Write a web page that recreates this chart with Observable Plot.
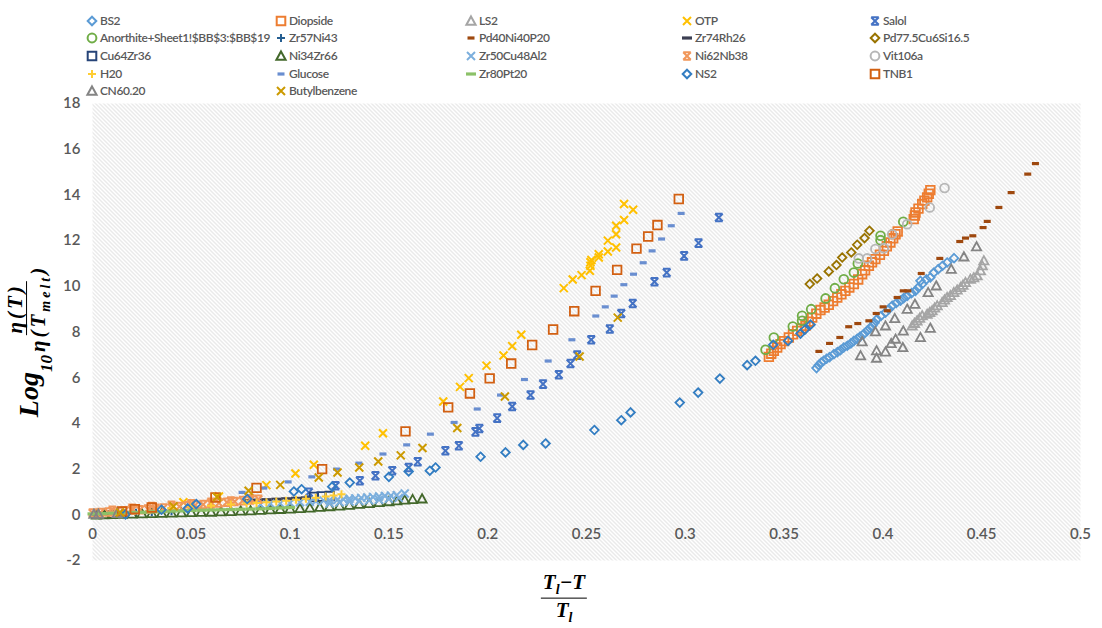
<!DOCTYPE html>
<html><head><meta charset="utf-8">
<script src="https://cdn.jsdelivr.net/npm/d3@7"></script>
<script src="https://cdn.jsdelivr.net/npm/@observablehq/plot@0.6"></script>
<style>
body{margin:0;background:#fff;}
#wrap{position:relative;width:1102px;height:628px;overflow:hidden;font-family:Lato,"Open Sans",sans-serif;}
#legend .it{position:absolute;display:flex;align-items:center;font-size:12px;letter-spacing:-0.4px;color:#595959;font-weight:600;white-space:nowrap;line-height:14px;}
#legend svg{margin-right:3px;overflow:visible}
.math{font-family:"Liberation Serif","DejaVu Serif",serif;font-weight:bold;font-style:italic;color:#000;}
.frac{display:inline-flex;flex-direction:column;align-items:center;vertical-align:middle;}
.frac .num{border-bottom:1.5px solid #000;padding:0 2px;line-height:1.05;}
.frac .den{line-height:1.05;padding:0 2px;}
</style></head>
<body><div id="wrap"><div id="chart"></div><div id="legend"></div>
<div id="ylab" class="math" style="position:absolute;left:29px;top:340px;transform:translate(-50%,-50%) rotate(-90deg);white-space:nowrap;display:flex;align-items:center;">
<span style="font-size:28px;">Log</span><span style="font-size:17px;align-self:flex-end;margin-bottom:-3px;">10</span><span class="frac" style="font-size:21px;letter-spacing:3px;margin-left:1px;"><span class="num">η(T)</span><span class="den">η(T<sub style="font-size:14px;">melt</sub>)</span></span>
</div>
<div id="xlab" class="math" style="position:absolute;left:564px;top:598px;transform:translate(-50%,-50%);">
<span class="frac" style="font-size:21px;"><span class="num">T<sub style="font-size:14px;">l</sub>−T</span><span class="den">T<sub style="font-size:14px;">l</sub></span></span>
</div>
</div>
<script>
// ---- data ----
const xTicks = [0, 0.05, 0.1, 0.15, 0.2, 0.25, 0.3, 0.35, 0.4, 0.45, 0.5];
const yTicks = [-2, 0, 2, 4, 6, 8, 10, 12, 14, 16, 18];

const BS2 = [[0.3664,6.42],[0.3675,6.55],[0.3688,6.66],[0.370,6.74],[0.3715,6.83],[0.373,6.9],[0.3752,7.03],[0.377,7.12],[0.3785,7.2],[0.3802,7.32],[0.382,7.4],[0.3838,7.5],[0.3853,7.61],[0.387,7.7],[0.3885,7.8],[0.3903,7.91],[0.392,8.05],[0.3935,8.16],[0.3946,8.27],[0.3958,8.4],[0.397,8.56],[0.399,8.7],[0.4013,8.85],[0.403,9.0],[0.4047,9.15],[0.4068,9.27],[0.4089,9.37],[0.4105,9.48],[0.4123,9.58],[0.4145,9.7],[0.4165,9.8],[0.418,9.95],[0.4199,10.1],[0.419,10.24],[0.422,10.3],[0.424,10.39],[0.4258,10.6],[0.428,10.75],[0.4302,10.9],[0.4325,11.04],[0.436,11.23]];
const Diopside = [[0.3423,6.91],[0.3435,7.05],[0.3448,7.18],[0.3465,7.32],[0.3482,7.47],[0.350,7.6],[0.3524,7.76],[0.3545,7.9],[0.3566,8.05],[0.3587,8.15],[0.3608,8.27],[0.3625,8.45],[0.3642,8.63],[0.3663,8.8],[0.3684,8.96],[0.3705,9.07],[0.3726,9.19],[0.3748,9.35],[0.3769,9.51],[0.379,9.65],[0.381,9.8],[0.383,9.95],[0.3853,10.1],[0.3875,10.3],[0.3895,10.53],[0.391,10.7],[0.3929,10.9],[0.3945,11.05],[0.3962,11.19],[0.3985,11.38],[0.4005,11.55],[0.402,11.75],[0.4038,11.92],[0.4052,12.1],[0.4064,12.28],[0.4075,12.4],[0.4156,12.94],[0.4162,13.1],[0.4165,13.23],[0.418,13.4],[0.4199,13.6],[0.421,13.75],[0.4224,13.89],[0.4232,14.05],[0.424,14.21]];
const LS2 = [[0.4148,8.27],[0.416,8.38],[0.4173,8.49],[0.4186,8.6],[0.4199,8.71],[0.4224,8.78],[0.4237,8.86],[0.4249,8.93],[0.4262,9.05],[0.4275,9.15],[0.43,9.29],[0.4312,9.4],[0.4325,9.51],[0.4342,9.6],[0.4359,9.73],[0.4376,9.84],[0.4393,9.95],[0.4405,10.05],[0.4418,10.17],[0.4443,10.31],[0.446,10.38],[0.4477,10.46],[0.4494,10.68],[0.4503,10.9],[0.4511,11.12]];
const OTP = [[0.046,0.55],[0.064,0.8],[0.088,1.3],[0.1027,1.81],[0.112,2.19],[0.138,3.02],[0.147,3.57],[0.1775,4.96],[0.186,5.6],[0.1904,5.98],[0.1994,6.53],[0.208,6.97],[0.2124,7.38],[0.217,7.88],[0.2385,9.92],[0.243,10.3],[0.2475,10.49],[0.2517,10.68],[0.252,10.9],[0.252,11.05],[0.2525,11.15],[0.2562,11.26],[0.2562,11.4],[0.2608,11.52],[0.2608,12.0],[0.265,11.7],[0.265,12.28],[0.265,12.65],[0.269,12.9],[0.2736,13.35],[0.269,13.6]];
const Salol = [[0.1095,0.98],[0.123,1.27],[0.1353,1.49],[0.1432,1.71],[0.1517,1.93],[0.16,2.07],[0.1646,2.32],[0.1786,2.8],[0.1854,3.02],[0.1938,3.63],[0.1958,3.78],[0.2048,4.23],[0.2124,4.74],[0.2217,5.24],[0.228,5.72],[0.236,6.13],[0.2419,6.62],[0.2453,6.99],[0.2524,7.66],[0.2618,8.13],[0.2676,8.81],[0.2734,9.25],[0.2844,10.2],[0.2906,10.6],[0.2994,11.33],[0.3067,11.89],[0.317,13.01]];
const Anorthite = [[0.3406,7.22],[0.3448,7.76],[0.3544,8.24],[0.3591,8.49],[0.3591,8.71],[0.3637,9.0],[0.371,9.47],[0.3757,9.92],[0.3802,10.31],[0.3853,10.6],[0.3873,11.0],[0.3988,12.02],[0.3988,12.21],[0.4103,12.82]];
const Zr57Ni43 = [[0.002,0.0],[0.008,0.03],[0.015,0.06],[0.022,0.09],[0.03,0.12],[0.04,0.16]];
const Pd40Ni40P20 = [[0.3676,7.15],[0.373,7.5],[0.3782,7.76],[0.3827,8.23],[0.3873,8.37],[0.3929,8.49],[0.3966,8.81],[0.4001,9.1],[0.4022,8.93],[0.4072,9.51],[0.4103,9.8],[0.4126,9.8],[0.4194,10.56],[0.4288,11.22],[0.4389,11.96],[0.4418,12.11],[0.4455,12.21],[0.4507,12.57],[0.4528,12.84],[0.4587,13.45],[0.4649,14.1],[0.4733,14.91],[0.4772,15.37]];
const Zr74Rh26 = [[0.078,0.62],[0.083,0.64],[0.088,0.66],[0.093,0.68],[0.098,0.7],[0.103,0.72],[0.108,0.74]];
const Pd775Cu6Si165 = [[0.363,10.1],[0.3667,10.34],[0.3726,10.65],[0.3765,10.93],[0.3794,11.26],[0.384,11.48],[0.387,11.82],[0.3907,12.11],[0.3932,12.43]];
const Cu64Zr36 = [[0.112,0.78],[0.116,0.8],[0.12,0.82]];
const Ni34Zr66 = [[0.002,0],[0.006,0.01],[0.01,0.02],[0.015,0.03],[0.02,0.04],[0.025,0.05],[0.03,0.06],[0.035,0.07],[0.04,0.08],[0.045,0.09],[0.05,0.1],[0.055,0.11],[0.06,0.12],[0.065,0.14],[0.07,0.15],[0.075,0.17],[0.08,0.18],[0.085,0.2],[0.09,0.22],[0.095,0.24],[0.1,0.26],[0.105,0.28],[0.11,0.3],[0.115,0.33],[0.12,0.36],[0.125,0.39],[0.13,0.42],[0.135,0.46],[0.14,0.5],[0.145,0.54],[0.15,0.58],[0.154,0.62],[0.158,0.65],[0.162,0.67],[0.1668,0.7]];
const Zr50Cu48Al2 = [[0.085,0.45],[0.09,0.48],[0.095,0.5],[0.1,0.52],[0.105,0.55],[0.11,0.57],[0.113,0.6],[0.117,0.62],[0.12,0.64],[0.124,0.66],[0.127,0.68],[0.13,0.7],[0.133,0.72],[0.136,0.74],[0.139,0.76],[0.142,0.78],[0.145,0.8],[0.148,0.82],[0.151,0.84],[0.154,0.86],[0.158,0.93],[0.12,0.5],[0.125,0.55],[0.13,0.58],[0.135,0.6],[0.14,0.63],[0.145,0.66],[0.15,0.7],[0.155,0.74]];
const Ni62Nb38 = [[0,0.08],[0.004,0.1],[0.008,0.12],[0.012,0.15],[0.016,0.17],[0.02,0.2],[0.024,0.22],[0.028,0.25],[0.032,0.28],[0.036,0.3],[0.04,0.33],[0.044,0.36],[0.048,0.39],[0.052,0.42],[0.056,0.45],[0.06,0.48],[0.064,0.52],[0.068,0.55],[0.072,0.58],[0.076,0.62],[0.08,0.65],[0.084,0.68],[0.01,0.2],[0.02,0.28],[0.03,0.36],[0.04,0.42],[0.05,0.48],[0.06,0.55],[0.07,0.6],[0.08,0.7]];
const Vit106a = [[0.3878,11.22],[0.392,11.22],[0.3962,11.63],[0.4005,11.67],[0.4047,12.28],[0.4123,12.72],[0.4237,13.45],[0.4312,14.3]];
const H20 = [[0.04,0.3],[0.05,0.35],[0.06,0.4],[0.07,0.45],[0.078,0.5],[0.083,0.52],[0.088,0.55],[0.093,0.58],[0.098,0.62],[0.103,0.66],[0.108,0.7],[0.113,0.75],[0.118,0.8],[0.122,0.85],[0.126,0.9]];
const Glucose = [[0.0757,0.98],[0.0867,1.17],[0.099,1.44],[0.111,1.66],[0.1235,2.0],[0.1348,2.26],[0.147,2.66],[0.159,3.06],[0.171,3.53],[0.183,4.04],[0.1947,4.63],[0.2065,5.24],[0.2186,5.92],[0.2306,6.73],[0.2426,7.66],[0.2547,8.7],[0.2595,9.1],[0.264,9.57],[0.2689,10.07],[0.2738,10.53],[0.2787,11.03],[0.2832,11.55],[0.288,12.07],[0.2929,12.65],[0.2979,13.19]];
const Zr80Pt20 = [[0,0.04],[0.005,0.05],[0.01,0.07],[0.015,0.08],[0.02,0.1],[0.025,0.11],[0.03,0.13],[0.035,0.14],[0.04,0.16],[0.045,0.17],[0.05,0.19],[0.055,0.2],[0.06,0.21],[0.065,0.22],[0.07,0.23],[0.075,0.24],[0.08,0.25],[0.085,0.26],[0.09,0.28],[0.095,0.3],[0.1,0.32]];
const NS2 = [[0.0167,0.02],[0.0349,0.22],[0.0482,0.28],[0.0525,0.47],[0.0783,0.69],[0.1019,1.02],[0.1058,1.12],[0.1213,1.23],[0.1302,1.41],[0.15,1.66],[0.16,1.9],[0.1707,1.93],[0.1736,2.07],[0.1964,2.54],[0.209,2.73],[0.218,3.06],[0.2293,3.12],[0.254,3.71],[0.2676,4.14],[0.2723,4.48],[0.2972,4.91],[0.3065,5.35],[0.3175,5.96],[0.3313,6.55],[0.3355,6.74],[0.3445,7.44],[0.352,7.61],[0.3583,7.93],[0.3605,8.1],[0.3634,8.32]];
const TNB1 = [[0.015,0.15],[0.0214,0.25],[0.030,0.32],[0.0622,0.76],[0.083,1.18],[0.1162,2.0],[0.1584,3.65],[0.180,4.7],[0.191,5.31],[0.201,5.97],[0.2119,6.62],[0.2225,7.43],[0.2331,8.11],[0.2438,8.91],[0.2546,9.8],[0.2655,10.72],[0.2753,11.65],[0.2812,12.18],[0.2859,12.68],[0.2967,13.82]];
const CN6020 = [[0.0007,0.03],[0.003,0.03],[0.0125,0.06],[0.3887,6.96],[0.3895,7.58],[0.3962,8.01],[0.3968,6.86],[0.3968,7.18],[0.4013,7.13],[0.4013,8.27],[0.4042,7.5],[0.406,8.59],[0.4064,7.69],[0.4101,7.32],[0.4103,8.05],[0.4123,9.0],[0.4162,9.22],[0.419,7.76],[0.4229,9.73],[0.424,8.17],[0.427,10.02],[0.4346,10.75],[0.441,11.29],[0.4474,11.73]];
const Butylbenzene = [[0.014,0.1],[0.041,0.37],[0.063,0.78],[0.079,1.05],[0.095,1.31],[0.1145,1.63],[0.124,1.85],[0.135,2.07],[0.1446,2.33],[0.156,2.6],[0.167,2.92],[0.1846,3.8],[0.2087,5.18],[0.2465,6.93],[0.2658,8.63]];

// ---- marker shapes ----
const S = {
  diamond:{draw(c){const s=4.3;c.moveTo(0,-s);c.lineTo(s,0);c.lineTo(0,s);c.lineTo(-s,0);c.closePath();}},
  square:{draw(c){const s=4.3;c.rect(-s,-s,2*s,2*s);}},
  triangle:{draw(c){const s=4.6;c.moveTo(0,-s);c.lineTo(s,s*0.8);c.lineTo(-s,s*0.8);c.closePath();}},
  x:{draw(c){const s=4;c.moveTo(-s,-s);c.lineTo(s,s);c.moveTo(s,-s);c.lineTo(-s,s);}},
  star:{draw(c){const s=3.8;c.moveTo(-s,-s);c.lineTo(s,s);c.moveTo(s,-s);c.lineTo(-s,s);c.moveTo(-s,-s);c.lineTo(s,-s);c.moveTo(-s,s);c.lineTo(s,s);}},
  circle:{draw(c){const r=4.4;c.moveTo(r,0);c.arc(0,0,r,0,2*Math.PI);}},
  plus:{draw(c){const s=4;c.moveTo(-s,0);c.lineTo(s,0);c.moveTo(0,-s);c.lineTo(0,s);}},
  dash:{draw(c){c.rect(-3.5,-1.6,7,3.2);}},
  longdash:{draw(c){c.rect(-5,-1.6,10,3.2);}}
};
const filled = new Set(["dash","longdash"]);

const series = [
  ["BS2", BS2, "diamond", "#5B9BD5"],
  ["Diopside", Diopside, "square", "#ED7D31"],
  ["LS2", LS2, "triangle", "#A5A5A5"],
  ["OTP", OTP, "x", "#FFC000"],
  ["Salol", Salol, "star", "#4472C4"],
  ["Anorthite+Sheet1!$BB$3:$BB$19", Anorthite, "circle", "#70AD47"],
  ["Zr57Ni43", Zr57Ni43, "plus", "#255E91"],
  ["Pd40Ni40P20", Pd40Ni40P20, "dash", "#9E480E"],
  ["Zr74Rh26", Zr74Rh26, "longdash", "#3c3f52"],
  ["Pd77.5Cu6Si16.5", Pd775Cu6Si165, "diamond", "#997300"],
  ["Cu64Zr36", Cu64Zr36, "square", "#264478"],
  ["Ni34Zr66", Ni34Zr66, "triangle", "#43682B"],
  ["Zr50Cu48Al2", Zr50Cu48Al2, "x", "#7CAFDD"],
  ["Ni62Nb38", Ni62Nb38, "star", "#F1975A"],
  ["Vit106a", Vit106a, "circle", "#B7B7B7"],
  ["H20", H20, "plus", "#FFCD33"],
  ["Glucose", Glucose, "dash", "#698ED0"],
  ["Zr80Pt20", Zr80Pt20, "longdash", "#8CC168"],
  ["NS2", NS2, "diamond", "#327DC2"],
  ["TNB1", TNB1, "square", "#D26012"],
  ["CN60.20", CN6020, "triangle", "#848484"],
  ["Butylbenzene", Butylbenzene, "x", "#CC9A00"]
];

const marks = [Plot.frame({fill:"url(#hatch)", stroke:null})];
for (const [name, pts, shape, color] of series) {
  const f = filled.has(shape);
  marks.push(Plot.dot(pts, {x: d => d[0], y: d => d[1], symbol: S[shape],
    fill: f ? color : "none", stroke: f ? "none" : color,
    strokeWidth: shape === "x" || shape === "star" || shape === "plus" ? 2 : 1.8}));
}
marks.push(Plot.axisY({ticks: yTicks, tickSize: 0, tickPadding: 12, tickFormat: d => String(d),
  fontSize: 15, fill: "#595959", fontWeight: 600}));
marks.push(Plot.axisX({ticks: xTicks, tickSize: 0, tickPadding: 0, dy: -32, tickFormat: d => String(+d.toFixed(2)),
  fontSize: 15, fill: "#595959", fontWeight: 600}));

const plot = Plot.plot({
  width: 1102, height: 628,
  marginLeft: 92, marginRight: 22, marginTop: 103, marginBottom: 68,
  x: {domain: [0, 0.5], label: null},
  y: {domain: [-2, 18], label: null},
  style: {fontFamily: "Lato, 'Open Sans', sans-serif", background: "transparent", overflow: "visible"},
  marks
});
const ns = "http://www.w3.org/2000/svg";
const defs = document.createElementNS(ns, "defs");
defs.innerHTML = '<pattern id="hatch" patternUnits="userSpaceOnUse" width="4" height="4">' +
  '<rect width="4" height="4" fill="#ffffff"/>' +
  '<path d="M-1,-1L5,5M3,-1L5,1M-1,3L1,5" stroke="#d4d4d4" stroke-width="1"/></pattern>';
plot.insertBefore(defs, plot.firstChild);
document.getElementById("chart").appendChild(plot);

// ---- legend ----
const colX = [92, 281, 471, 687, 875];
const rowY = [20.5, 38, 56, 73.5, 90.5];
const leg = document.getElementById("legend");
series.forEach(([name, , shape, color], i) => {
  const r = Math.floor(i / 5), c = i % 5;
  const it = document.createElement("div");
  it.className = "it";
  it.style.left = (colX[c] - 5) + "px";
  it.style.top = (rowY[r] - 7) + "px";
  const p = d3.path(); S[shape].draw(p);
  const f = filled.has(shape);
  it.innerHTML = `<svg width="10" height="10" viewBox="-5 -5 10 10"><path d="${p}" fill="${f ? color : "none"}" stroke="${f ? "none" : color}" stroke-width="2"/></svg><span>${name}</span>`;
  leg.appendChild(it);
});
</script></body></html>
